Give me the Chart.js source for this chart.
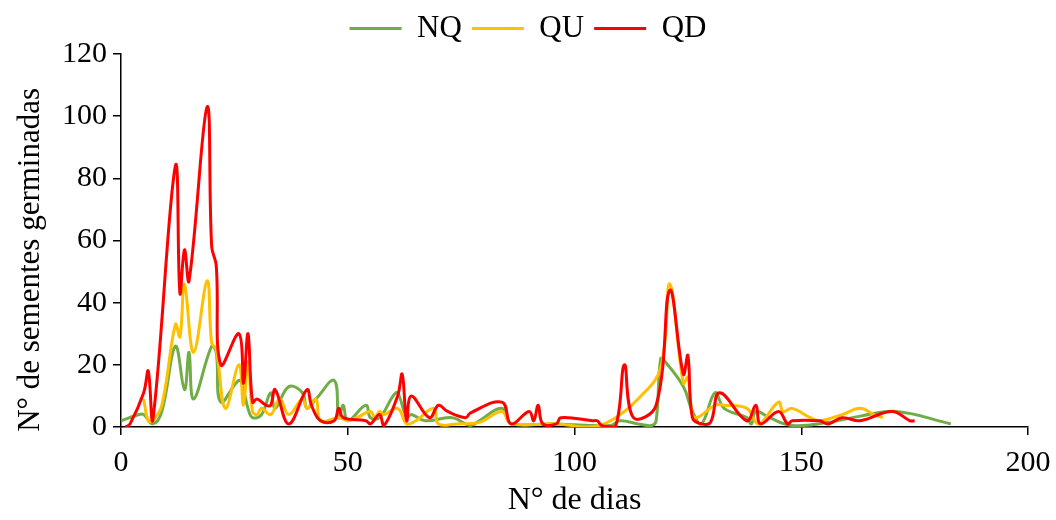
<!DOCTYPE html>
<html>
<head>
<meta charset="utf-8">
<script src="https://cdn.jsdelivr.net/npm/chart.js@4"></script>
<style>
  html, body { margin: 0; padding: 0; background: #fff; }
  #wrap { width: 1056px; height: 520px; }
</style>
</head>
<body>
<div id="wrap"><canvas id="chart1" width="1056" height="520"></canvas></div>
<script>
// dias e numero de sementes germinadas por tratamento
const nqDays = [0, 4, 5, 7, 9, 12, 14, 15, 16, 20, 21, 22, 26, 27, 28, 29, 31, 33, 34, 37, 40, 41, 43, 47, 48, 49, 50, 54, 55, 57, 60, 61, 63, 64, 67, 73, 77, 79, 84, 86, 95, 104, 108, 110, 114, 117, 118, 119, 120, 124, 126, 128, 131, 133, 138, 139, 140, 143, 148, 156, 163, 171, 183]
const nqValues = [2, 4, 4, 1, 5, 26, 12, 24, 9, 26, 24, 8, 15, 12, 6, 3, 4, 11, 6, 13, 11, 6, 9, 15, 3, 7, 2, 7, 3, 3, 10, 11, 3, 4, 2, 3, 0.5, 2, 6, 1, 1, 0.5, 0.5, 2, 1, 0.5, 2, 22, 21, 13, 5, 1, 11, 6, 3, 1, 5, 3, 0.5, 1.5, 3.5, 5, 1]

const quDays = [5, 6, 7, 9, 12, 13, 14, 16, 19, 20, 21, 23, 26, 27, 28, 29, 30, 31, 33, 35, 37, 40, 41, 43, 44, 48, 50, 52, 55, 56, 57, 58, 61, 63, 65, 69, 70, 74, 79, 84, 86, 96, 103, 108, 114, 119, 121, 124, 125, 126, 127, 131, 133, 138, 140, 141, 145, 146, 148, 152, 154, 159, 163, 166, 168]
const quValues = [9, 2, 2, 7, 33, 29, 46, 24, 47, 27, 25, 6, 20, 7, 21, 5, 4, 6, 4, 9, 4, 9, 6, 9, 2, 3, 2, 3, 5, 3, 5, 4, 6, 1, 2, 6, 1, 1, 1.5, 5, 1, 1, 0, 2, 9, 19, 46, 14, 16, 4, 3, 7, 7, 6, 1.5, 1, 8, 5, 6, 3, 2, 4, 6, 4, 3]

const qdDays = [1, 2, 5, 6, 7, 12, 13, 14, 15, 19, 20, 21, 22, 26, 27, 28, 29, 30, 32, 33, 34, 37, 41, 42, 44, 47, 48, 49, 54, 55, 57, 58, 61, 62, 63, 64, 68, 70, 72, 76, 77, 84, 86, 90, 91, 92, 93, 96, 97, 104, 105, 106, 109, 111, 113, 118, 121, 124, 125, 126, 128, 130, 132, 138, 140, 141, 145, 147, 148, 154, 156, 159, 163, 170, 174, 175]
const qdValues = [0, 1, 11, 18, 2, 84, 43, 57, 47, 103, 58, 52, 20, 30, 14, 30, 8, 9, 7, 7, 12, 1, 12, 7, 2, 2, 6, 3, 2, 1, 4, 0.5, 10, 17, 2, 10, 3, 7, 5, 3, 4.5, 8, 1, 5, 2, 7, 1, 1, 3, 2, 2, 0.5, 0, 20, 3, 7, 44, 17, 23, 3, 1, 1.5, 11, 2, 7, 1, 5, 1, 2, 2, 1, 3, 2, 5, 2, 2]

const seriesNames = ['NQ', 'QU', 'QD']
const xTicks = [0, 50, 100, 150, 200]
const yTicks = [0, 20, 40, 60, 80, 100, 120]

function pontos(days, values) {
    return days.map((d, i) => ({ x: d, y: values[i] }))
}

function renderChart() {
    Chart.defaults.font.family = "'Liberation Serif', 'Times New Roman', serif"
    Chart.defaults.font.size = 30
    Chart.defaults.color = '#000'

    const ctx = document.querySelector('#chart1').getContext('2d')

    const linha = {
        borderWidth: 3,
        pointRadius: 0,
        pointHoverRadius: 0,
        tension: 0.4,
        fill: false,
        pointStyle: 'line'
    }

    new Chart(ctx, {
        type: 'line',
        data: {
            datasets: [
                { ...linha, label: seriesNames[0], data: pontos(nqDays, nqValues), borderColor: '#70AD47', backgroundColor: '#70AD47', order: 3 },
                { ...linha, label: seriesNames[1], data: pontos(quDays, quValues), borderColor: '#FFC000', backgroundColor: '#FFC000', order: 2 },
                { ...linha, label: seriesNames[2], data: pontos(qdDays, qdValues), borderColor: '#FF0000', backgroundColor: '#FF0000', order: 1 }
            ]
        },
        options: {
            responsive: false,
            animation: false,
            devicePixelRatio: 1,
            layout: { padding: { top: 3, left: 0, right: 0, bottom: 0 } },
            plugins: {
                tooltip: { enabled: false },
                legend: {
                    position: 'top',
                    labels: {
                        font: { size: 31 },
                        usePointStyle: true,
                        pointStyleWidth: 52,
                        padding: 10,
                        sort: (a, b) => a.datasetIndex - b.datasetIndex
                    }
                }
            },
            scales: {
                x: {
                    type: 'linear',
                    min: 0,
                    max: 200,
                    afterBuildTicks: s => { s.ticks = xTicks.map(v => ({ value: v })) },
                    afterFit: s => { s.height = 93; s.paddingRight = 28 },
                    grid: { drawOnChartArea: false, drawTicks: true, tickLength: 8, color: '#000', lineWidth: 1.5 },
                    border: { color: '#000', width: 1.5 },
                    ticks: { padding: 10 },
                    title: { display: true, text: 'N° de dias', font: { size: 32 }, padding: 0 }
                },
                y: {
                    min: 0,
                    max: 120,
                    afterBuildTicks: s => { s.ticks = yTicks.map(v => ({ value: v })) },
                    afterFit: s => { s.width = 121 },
                    grid: { drawOnChartArea: false, drawTicks: true, tickLength: 8, color: '#000', lineWidth: 1.5 },
                    border: { color: '#000', width: 1.5 },
                    ticks: { padding: 6 },
                    title: { display: true, text: 'N° de sementes germinadas\u00A0\u00A0\u00A0\u00A0\u00A0', font: { size: 31 }, padding: { top: 12, bottom: 0 } }
                }
            }
        }
    })
}

renderChart()
</script>
</body>
</html>
